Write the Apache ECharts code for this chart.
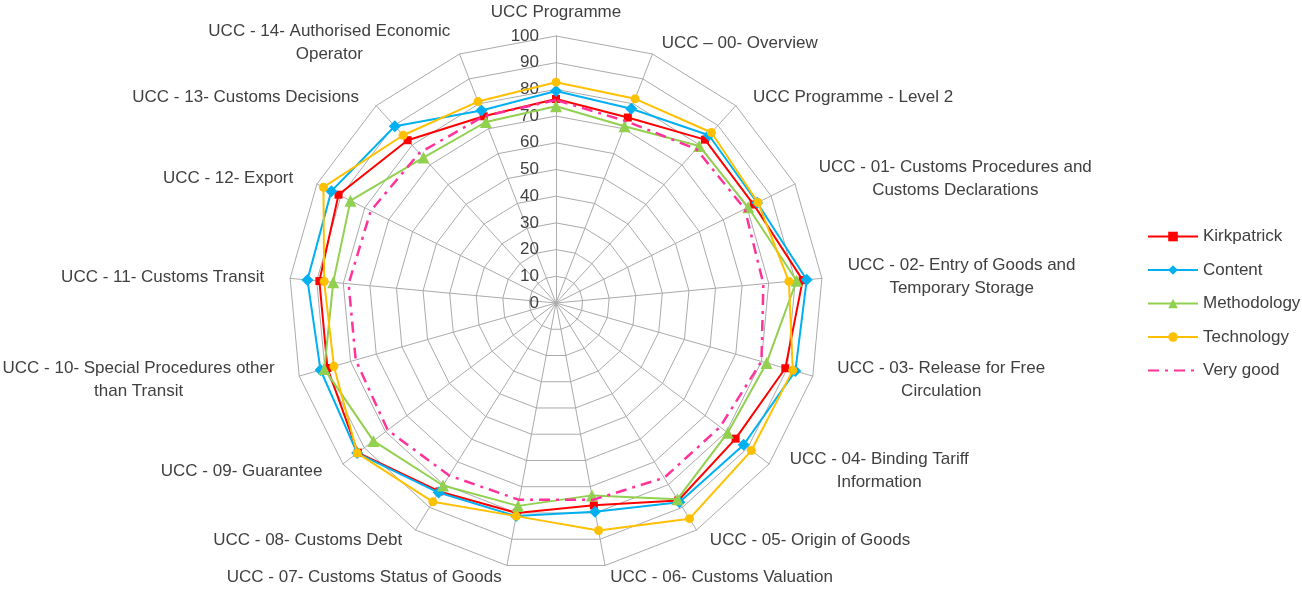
<!DOCTYPE html>
<html><head><meta charset="utf-8">
<script src="https://cdn.jsdelivr.net/npm/echarts@6/dist/echarts.min.js"></script>
<style>html,body{margin:0;padding:0;background:#fff}#c{width:1302px;height:591px}</style>
</head><body><div id="c"></div>
<script>
const categories = [
  "UCC Programme",
  "UCC \u2013 00- Overview",
  "UCC Programme - Level 2",
  "UCC - 01- Customs Procedures and\nCustoms Declarations",
  "UCC - 02- Entry of Goods and\nTemporary Storage",
  "UCC - 03- Release for Free\nCirculation",
  "UCC - 04- Binding Tariff\nInformation",
  "UCC - 05- Origin of Goods",
  "UCC - 06- Customs Valuation",
  "UCC - 07- Customs Status of Goods",
  "UCC - 08- Customs Debt",
  "UCC - 09- Guarantee",
  "UCC - 10- Special Procedures other\nthan Transit",
  "UCC - 11- Customs Transit",
  "UCC - 12- Export",
  "UCC - 13- Customs Decisions",
  "UCC - 14- Authorised Economic\nOperator"
];
const seriesNames = ["Kirkpatrick", "Content", "Methodology", "Technology", "Very good"];
const kirkpatrick = [76.4, 74.5, 82.8, 82.7, 92.8, 89.3, 84.3, 87.0, 77.1, 80.0, 83.0, 93.0, 89.0, 89.0, 91.0, 82.5, 75.0];
const content     = [79.4, 78.0, 85.0, 84.2, 94.3, 93.2, 88.1, 87.8, 79.5, 81.2, 83.5, 93.3, 91.7, 93.5, 94.0, 89.6, 77.3];
const methodology = [73.7, 71.0, 79.6, 80.4, 90.5, 82.0, 80.6, 86.4, 73.3, 77.3, 80.4, 85.7, 90.2, 83.8, 86.0, 73.7, 72.7];
const technology  = [82.7, 82.0, 86.4, 84.5, 87.6, 92.2, 91.7, 95.0, 86.7, 81.2, 87.6, 93.3, 86.5, 87.2, 97.3, 85.0, 80.9];
const veryGood    = [76.0, 73.0, 78.0, 79.0, 78.0, 80.0, 77.0, 77.0, 75.0, 75.0, 76.0, 79.0, 78.0, 78.0, 77.5, 76.0, 75.0];
const axisMax = 100;
const axisSplits = 10;

const values = [kirkpatrick, content, methodology, technology, veryGood];
const colors = ['#FF0000', '#00B0F0', '#92D050', '#FFC000', '#FF3399'];
const symbols = ['rect', 'diamond', 'triangle', 'circle', 'none'];
const symbolSizes = [8, 12, 12, 9, 0];
const lineTypes = ['solid', 'solid', 'solid', 'solid', [11, 6, 3, 6]];
const lineWidths = [2, 2, 2, 2, 2.5];
const FONT = 'Liberation Sans';
const TXT = '#404040';

// ECharts radar runs counter-clockwise; reorder so categories run clockwise.
const N = categories.length;
const order = categories.map((_, k) => (N - k) % N);

// Extra horizontal offset for side labels (more for near-horizontal axes)
const rich = {};
categories.forEach((c, j) => {
  const ux = Math.sin(j * 2 * Math.PI / N);
  const extra = Math.round(14 * Math.abs(ux));
  rich['p' + j] = {
    align: 'center', fontFamily: FONT, fontSize: 17, lineHeight: 23, color: TXT,
    padding: ux > 0.05 ? [0, 0, 0, extra] : (ux < -0.05 ? [0, extra, 0, 0] : 0)
  };
});

const chart = echarts.init(document.getElementById('c'), null, {renderer: 'canvas'});

const legendSeries = seriesNames.map((n, i) => ({
  type: 'line', name: n, xAxisIndex: 0, yAxisIndex: 0, data: [],
  symbol: symbols[i] === 'none' ? 'circle' : symbols[i],
  color: colors[i],
  itemStyle: {color: colors[i]},
  lineStyle: {color: colors[i], width: lineWidths[i], type: lineTypes[i]}
}));

const radarSeries = seriesNames.map((n, i) => ({
  type: 'radar', name: n, radarIndex: 0,
  symbol: symbols[i], symbolSize: symbolSizes[i],
  itemStyle: {color: colors[i]},
  lineStyle: {color: colors[i], width: lineWidths[i], type: lineTypes[i]},
  z: 2 + i,
  data: [{value: order.map(j => values[i][j]), name: n}]
}));

chart.setOption({
  animation: false,
  backgroundColor: '#fff',
  grid: {left: -100, top: -100, width: 10, height: 10, show: false},
  xAxis: {show: false, type: 'value'},
  yAxis: {show: false, type: 'value'},
  legend: {
    orient: 'vertical', left: 1142, top: 223,
    itemWidth: 50, itemHeight: 12, itemGap: 16.5,
    textStyle: {fontFamily: FONT, fontSize: 17, color: TXT},
    data: seriesNames.map((n, i) => i === 4 ? {name: n, itemStyle: {opacity: 0}} : {name: n})
  },
  radar: {
    center: [556, 303], radius: 267, startAngle: 90,
    shape: 'polygon', splitNumber: axisSplits,
    axisName: {
      color: TXT, fontFamily: FONT, fontSize: 17, lineHeight: 23,
      formatter: (v) => {
        const j = categories.indexOf(v);
        return v.split('\n').map(l => '{p' + j + '|' + l + '}').join('\n');
      },
      rich: rich
    },
    nameGap: 12,
    splitArea: {show: false},
    splitLine: {lineStyle: {color: '#ABABAB', width: 1}},
    axisLine: {lineStyle: {color: '#ABABAB', width: 1}},
    axisTick: {show: false},
    axisLabel: {show: false, margin: 17, fontFamily: FONT, fontSize: 17, color: TXT, showMinLabel: true, showMaxLabel: true},
    indicator: order.map((j, k) => k === 0
      ? {name: categories[j], min: 0, max: axisMax, axisLabel: {show: true}}
      : {name: categories[j], min: 0, max: axisMax})
  },
  series: legendSeries.concat(radarSeries)
});
</script>
</body></html>
